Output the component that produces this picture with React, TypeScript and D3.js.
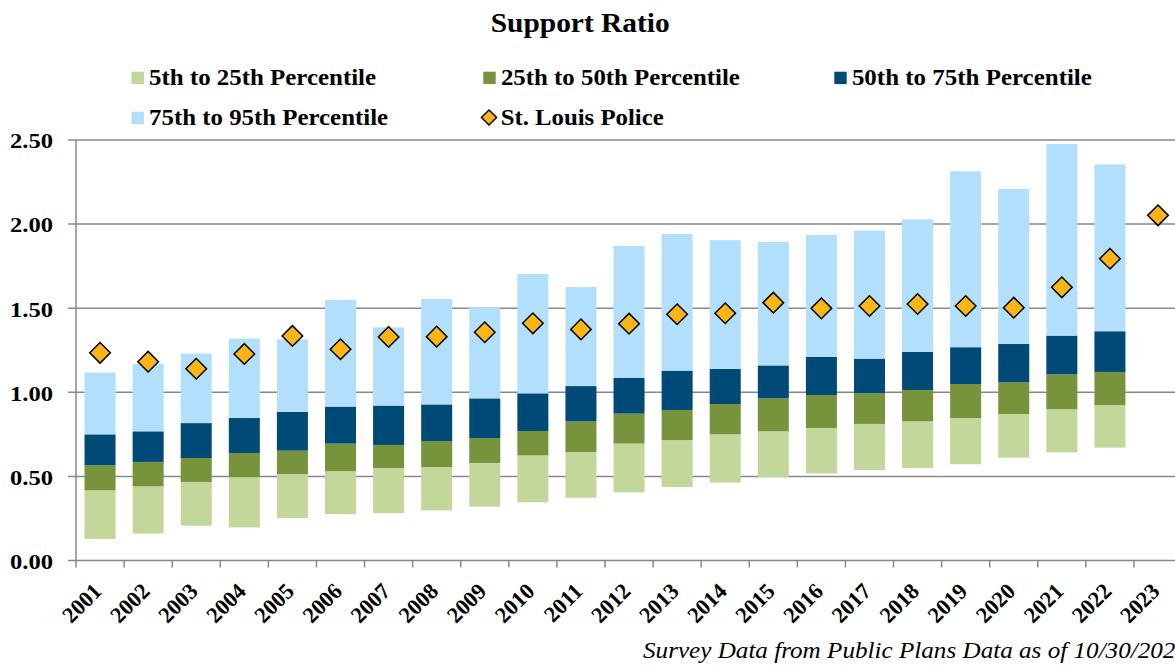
import React from 'react';
import * as d3 from 'd3';

const years = ['2001', '2002', '2003', '2004', '2005', '2006', '2007', '2008', '2009', '2010', '2011', '2012',
  '2013', '2014', '2015', '2016', '2017', '2018', '2019', '2020', '2021', '2022', '2023'];

// percentile boundaries for each year (2023 has no survey bars)
const p5 = [0.128, 0.160, 0.207, 0.197, 0.253, 0.276, 0.282, 0.298, 0.320, 0.346, 0.373, 0.405,
  0.437, 0.463, 0.496, 0.518, 0.538, 0.550, 0.572, 0.611, 0.643, 0.671, null];
const p25 = [0.417, 0.441, 0.467, 0.495, 0.514, 0.532, 0.550, 0.556, 0.580, 0.625, 0.645, 0.695,
  0.716, 0.750, 0.768, 0.788, 0.812, 0.827, 0.847, 0.871, 0.899, 0.924, null];
const p50 = [0.566, 0.586, 0.609, 0.639, 0.653, 0.695, 0.687, 0.710, 0.728, 0.770, 0.827, 0.873,
  0.895, 0.930, 0.964, 0.984, 0.994, 1.014, 1.049, 1.059, 1.107, 1.121, null];
const p75 = [0.750, 0.768, 0.817, 0.847, 0.883, 0.915, 0.921, 0.928, 0.964, 0.994, 1.037, 1.085,
  1.129, 1.139, 1.160, 1.210, 1.200, 1.240, 1.268, 1.287, 1.337, 1.363, null];
const p95 = [1.117, 1.168, 1.230, 1.319, 1.315, 1.549, 1.386, 1.555, 1.505, 1.703, 1.626, 1.870,
  1.941, 1.904, 1.894, 1.935, 1.961, 2.028, 2.314, 2.209, 2.476, 2.355, null];
const stLouis = [1.235, 1.182, 1.140, 1.228, 1.335, 1.256, 1.329, 1.331, 1.357, 1.410, 1.374, 1.408,
  1.464, 1.470, 1.533, 1.499, 1.513, 1.525, 1.513, 1.503, 1.624, 1.794, 2.052];

const yTicks = [0, 0.5, 1.0, 1.5, 2.0, 2.5];

const segNames = ['5th to 25th Percentile', '25th to 50th Percentile', '50th to 75th Percentile', '75th to 95th Percentile'];
const segColors = ['#c4d79b', '#77933c', '#004a77', '#b2dffb'];
const markerName = 'St. Louis Police';
const markerColor = '#fdb515';

const serif = '"Liberation Serif", "Times New Roman", serif';

const diamondPath = (r: number) => `M0,${-r}L${r},0L0,${r}L${-r},0Z`;

export default function App() {
  const left = 76;
  const top = 140;
  const bottom = 560.5;
  const step = 48.09;
  const right = 1175;

  const x = d3.scaleBand().domain(years).range([left, left + step * years.length]).paddingInner(0.355).paddingOuter(0.1775);
  const y = d3.scaleLinear().domain([0, 2.5]).range([bottom, top]);

  const bounds = [p5, p25, p50, p75, p95];

  const legendItems = [
    { label: segNames[0], color: segColors[0], x: 131.5, y: 85, w: 227 },
    { label: segNames[1], color: segColors[1], x: 483.3, y: 85, w: 239 },
    { label: segNames[2], color: segColors[2], x: 834.3, y: 85, w: 240 },
    { label: segNames[3], color: segColors[3], x: 131.5, y: 125, w: 239 },
  ];

  return (
    <svg width={1175} height={666} style={{ position: 'absolute', left: 0, top: 0, background: '#fff' }}>
      <text x={490.7} y={31.7} fontFamily={serif} fontWeight="bold" fontSize={28}
        textLength={179} lengthAdjust="spacingAndGlyphs">Support Ratio</text>

      {legendItems.map((d) => (
        <g key={d.label}>
          <rect x={d.x} y={d.y - 13.3} width={12.4} height={12.4} fill={d.color} />
          <text x={d.x + 17.6} y={d.y} fontFamily={serif} fontWeight="bold" fontSize={22.5}
            textLength={d.w} lengthAdjust="spacingAndGlyphs">{d.label}</text>
        </g>
      ))}
      <g>
        <path d={diamondPath(7.6)} transform="translate(489,117.5)" fill={markerColor} stroke="#000" strokeWidth={1.4} />
        <text x={500.7} y={125} fontFamily={serif} fontWeight="bold" fontSize={22.5}
          textLength={163} lengthAdjust="spacingAndGlyphs">{markerName}</text>
      </g>

      {yTicks.map((t) => (
        <g key={t}>
          <line x1={left - 8} x2={right} y1={y(t)} y2={y(t)} stroke="#888" strokeWidth={1.5} />
          <text x={10} y={y(t) + 8.3} fontFamily={serif} fontWeight="bold" fontSize={22}
            textLength={43} lengthAdjust="spacingAndGlyphs">{t.toFixed(2)}</text>
        </g>
      ))}
      <line x1={left} x2={left} y1={top} y2={bottom} stroke="#888" strokeWidth={1.5} />

      {years.map((yr, i) => {
        const bx = x(yr) as number;
        return (
          <g key={yr}>
            {p5[i] !== null && segColors.map((c, s) => {
              const lo = bounds[s][i] as number;
              const hi = bounds[s + 1][i] as number;
              return <rect key={s} x={bx} y={y(hi)} width={x.bandwidth()} height={y(lo) - y(hi)} fill={c} />;
            })}
          </g>
        );
      })}

      {years.map((yr, i) => {
        const cx = (x(yr) as number) + x.bandwidth() / 2;
        return (
          <path key={yr} d={diamondPath(10.3)} transform={`translate(${cx},${y(stLouis[i])})`}
            fill={markerColor} stroke="#000" strokeWidth={1.5} />
        );
      })}

      {years.map((yr, i) => {
        const tx = left + step * i;
        const cx = (x(yr) as number) + x.bandwidth() / 2;
        return (
          <g key={yr}>
            <line x1={tx} x2={tx} y1={bottom} y2={bottom + 7} stroke="#888" strokeWidth={1.5} />
            <text transform={`translate(${cx + 3},${bottom + 32}) rotate(-45)`} textAnchor="end"
              fontFamily={serif} fontWeight="bold" fontSize={22.5}>{yr}</text>
          </g>
        );
      })}
      <line x1={left + step * years.length} x2={left + step * years.length} y1={bottom} y2={bottom + 7} stroke="#888" strokeWidth={1.5} />

      <text x={643} y={658} fontFamily={serif} fontStyle="italic" fontSize={24}
        textLength={545} lengthAdjust="spacingAndGlyphs">Survey Data from Public Plans Data as of 10/30/2023</text>
    </svg>
  );
}
